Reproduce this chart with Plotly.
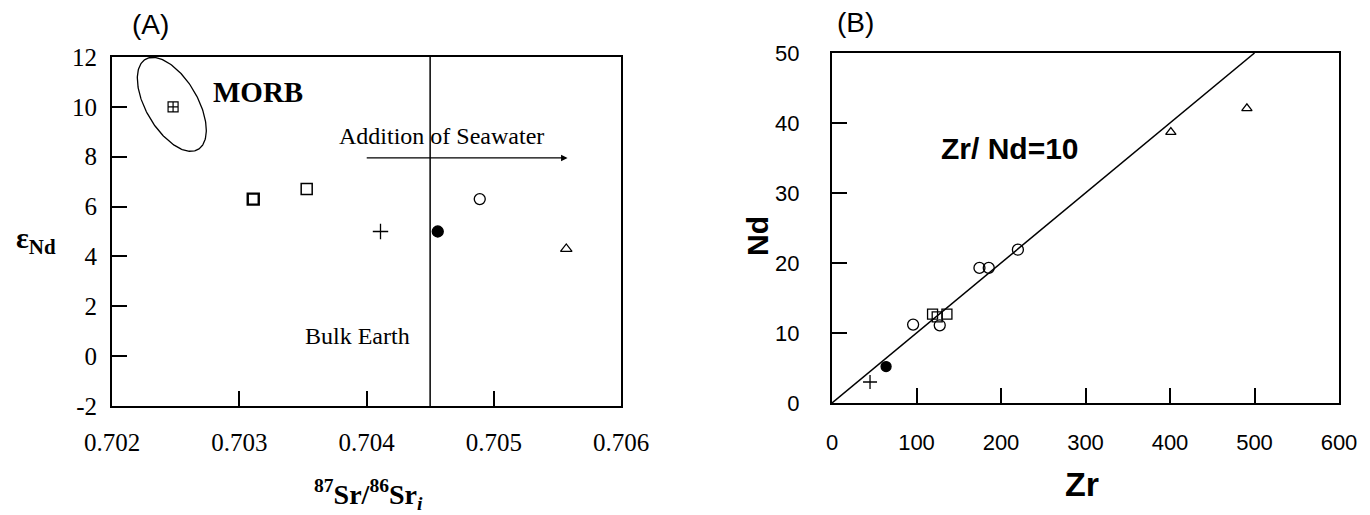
import numpy as np
import plotly.graph_objects as go

# ---------------- Data: panel (A) ----------------
sr_morb = [0.70248]
end_morb = [10.0]
sr_sq = [0.70311, 0.70353]
end_sq = [6.3, 6.7]
sr_plus = [0.70411]
end_plus = [5.0]
sr_fill = [0.70456]
end_fill = [5.0]
sr_circ = [0.70489]
end_circ = [6.3]
sr_tri = [0.70557]
end_tri = [4.3]
bulk_earth_sr = 0.7045
# MORB field ellipse (center, half-width in Sr, vertical terms in eps)
morb_cx, morb_cy = 0.70247, 10.1
morb_wx, morb_c, morb_h = 0.000271, 1.04, 1.57

a_xticks = [0.702, 0.703, 0.704, 0.705, 0.706]
a_xticklabels = ["0.702", "0.703", "0.704", "0.705", "0.706"]
a_yticks = [-2, 0, 2, 4, 6, 8, 10, 12]
a_yticklabels = ["-2", "0", "2", "4", "6", "8", "10", "12"]

# ---------------- Data: panel (B) ----------------
zr_plus = [45]
nd_plus = [3.0]
zr_fill = [64]
nd_fill = [5.2]
zr_circ = [96, 127.5, 174.5, 185.5, 220]
nd_circ = [11.2, 11.1, 19.3, 19.3, 21.9]
zr_sq = [119, 124.5, 136]
nd_sq = [12.7, 12.3, 12.7]
zr_tri = [401, 491]
nd_tri = [38.7, 42.1]
ratio_line_zr = [0, 500]
zr_nd_ratio = 10

b_xticks = [0, 100, 200, 300, 400, 500, 600]
b_yticks = [0, 10, 20, 30, 40, 50]

W, H = 1370, 515
SERIF = "Liberation Serif, Times New Roman, serif"
SANS = "Liberation Sans, Arial, Helvetica, sans-serif"

fig = go.Figure()

def mk(sym, size, lw=1.3):
    return dict(symbol=sym, size=size, color="black",
                line=dict(color="black", width=lw))

# Panel A traces
t = np.linspace(0, 2 * np.pi, 200)
ell_x = morb_cx + morb_wx * np.cos(t)
ell_y = morb_cy - morb_c * np.cos(t) + morb_h * np.sin(t)
fig.add_trace(go.Scatter(x=ell_x, y=ell_y, mode="lines",
                         line=dict(color="black", width=1.3),
                         xaxis="x", yaxis="y", hoverinfo="skip"))
fig.add_trace(go.Scatter(x=[bulk_earth_sr, bulk_earth_sr], y=[-2, 12], mode="lines",
                         line=dict(color="black", width=1.5), xaxis="x", yaxis="y"))
fig.add_trace(go.Scatter(x=sr_morb, y=end_morb, mode="markers",
                         marker=mk("square-cross-open", 10, 1.2), xaxis="x", yaxis="y"))
fig.add_trace(go.Scatter(x=sr_sq[:1], y=end_sq[:1], mode="markers",
                         marker=mk("square-open", 11, 2.4), xaxis="x", yaxis="y"))
fig.add_trace(go.Scatter(x=sr_sq[1:], y=end_sq[1:], mode="markers",
                         marker=mk("square-open", 11, 1.5), xaxis="x", yaxis="y"))
fig.add_trace(go.Scatter(x=sr_plus, y=end_plus, mode="markers",
                         marker=mk("cross-thin-open", 11, 1.3), xaxis="x", yaxis="y"))
fig.add_trace(go.Scatter(x=sr_fill, y=end_fill, mode="markers",
                         marker=mk("circle", 11), xaxis="x", yaxis="y"))
fig.add_trace(go.Scatter(x=sr_circ, y=end_circ, mode="markers",
                         marker=mk("circle-open", 11), xaxis="x", yaxis="y"))
fig.add_trace(go.Scatter(x=sr_tri, y=end_tri, mode="markers",
                         marker=mk("triangle-up-open", 10), xaxis="x", yaxis="y"))

# Panel B traces
fig.add_trace(go.Scatter(x=ratio_line_zr, y=[z / zr_nd_ratio for z in ratio_line_zr],
                         mode="lines", line=dict(color="black", width=1.5),
                         xaxis="x2", yaxis="y2"))
fig.add_trace(go.Scatter(x=zr_plus, y=nd_plus, mode="markers",
                         marker=mk("cross-thin-open", 10), xaxis="x2", yaxis="y2"))
fig.add_trace(go.Scatter(x=zr_fill, y=nd_fill, mode="markers",
                         marker=mk("circle", 10), xaxis="x2", yaxis="y2"))
fig.add_trace(go.Scatter(x=zr_circ, y=nd_circ, mode="markers",
                         marker=mk("circle-open", 11), xaxis="x2", yaxis="y2"))
fig.add_trace(go.Scatter(x=zr_sq, y=nd_sq, mode="markers",
                         marker=mk("square-open", 10), xaxis="x2", yaxis="y2"))
fig.add_trace(go.Scatter(x=zr_tri, y=nd_tri, mode="markers",
                         marker=mk("triangle-up-open", 9), xaxis="x2", yaxis="y2"))

def px(x):
    return x / W

def py(y):
    return 1 - y / H

axis_common = dict(showgrid=False, zeroline=False, showline=True, mirror=True,
                   linecolor="black", linewidth=2, ticks="inside", ticklen=15,
                   tickwidth=1.5, tickcolor="black", automargin=False)

fig.update_layout(
    width=W, height=H, autosize=False,
    margin=dict(l=0, r=0, t=0, b=0, pad=0, autoexpand=False),
    paper_bgcolor="white", plot_bgcolor="white",
    showlegend=False,
    xaxis=dict(domain=[px(112), px(621)], range=[0.702, 0.706],
               tickvals=a_xticks, ticktext=a_xticklabels,
               tickfont=dict(family=SERIF, size=25, color="black"),
               ticklabelstandoff=13, anchor="y", **axis_common),
    yaxis=dict(domain=[py(406), py(57)], range=[-2, 12],
               tickvals=a_yticks, ticktext=a_yticklabels,
               tickfont=dict(family=SERIF, size=25, color="black"),
               ticklabelstandoff=8, anchor="x", **axis_common),
    xaxis2=dict(domain=[px(832), px(1339)], range=[0, 600], tickvals=b_xticks,
                tickfont=dict(family=SANS, size=22, color="black"),
                ticklabelstandoff=19, anchor="y2", **axis_common),
    yaxis2=dict(domain=[py(403), py(53)], range=[0, 50], tickvals=b_yticks,
                tickfont=dict(family=SANS, size=22, color="black"),
                ticklabelstandoff=26, anchor="x2", **axis_common),
)

def pann(x, y, text, size, family, **kw):
    return dict(x=px(x), y=py(y), xref="paper", yref="paper", text=text,
                xanchor="center", yanchor="middle", showarrow=False,
                font=dict(family=family, size=size, color="black"), **kw)

ann = [
    pann(150, 25, "(A)", 28, SANS),
    pann(855, 22, "(B)", 28, SANS),
    pann(36, 240, "<b>ε<sub>Nd</sub></b>", 30, SERIF),
    pann(368, 494, "<b><sup>87</sup>Sr/<sup>86</sup>Sr<sub><i>i</i></sub></b>", 28, SERIF),
    pann(757, 236, "<b>Nd</b>", 30, SANS, textangle=-90),
    pann(1082, 484, "<b>Zr</b>", 34, SANS),
]
# In-plot text A
ann.append(dict(x=0.70315, y=10.6, xref="x", yref="y", text="<b>MORB</b>",
                showarrow=False, font=dict(family=SERIF, size=29, color="black")))
ann.append(dict(x=0.70459, y=8.85, xref="x", yref="y", text="Addition of Seawater",
                showarrow=False, font=dict(family=SERIF, size=24, color="black")))
ann.append(dict(x=0.70558, y=7.95, ax=0.70399, ay=7.95, xref="x", yref="y",
                axref="x", ayref="y", text="", showarrow=True, arrowhead=2,
                arrowsize=1, arrowwidth=1.3, arrowcolor="black"))
ann.append(dict(x=0.70393, y=0.8, xref="x", yref="y", text="Bulk Earth",
                showarrow=False, font=dict(family=SERIF, size=24, color="black")))
# In-plot text B
ann.append(dict(x=211, y=36.4, xref="x2", yref="y2", text="<b>Zr/ Nd=10</b>",
                showarrow=False, font=dict(family=SANS, size=30, color="black")))
fig.update_layout(annotations=ann)

fig.write_html("out.html", config={"displayModeBar": False},
               post_script="document.body.style.margin='0';document.body.style.overflow='hidden';")
